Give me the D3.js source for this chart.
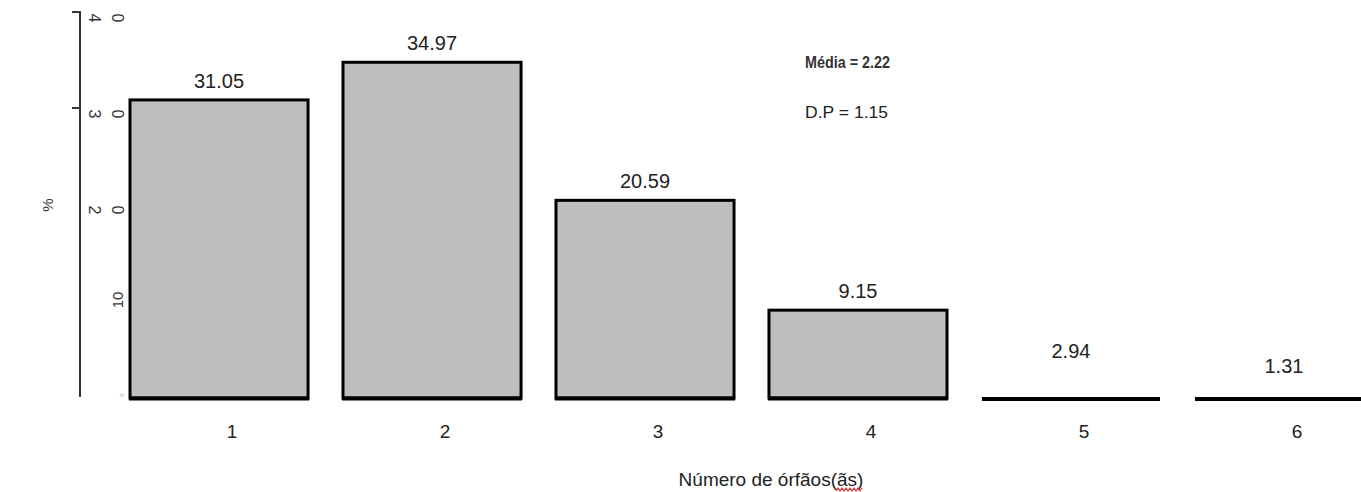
<!DOCTYPE html>
<html>
<head>
<meta charset="utf-8">
<script src="https://cdn.jsdelivr.net/npm/d3@7"></script>
<style>
  html, body { margin: 0; padding: 0; background: #fff; }
  svg { display: block; font-family: "Liberation Sans", Arial, sans-serif; }
</style>
</head>
<body>
<svg id="chart" width="1361" height="492"></svg>
<script>
// ---- data ----
const categories = ["1", "2", "3", "4", "5", "6"];
const percents = [31.05, 34.97, 20.59, 9.15, 2.94, 1.31];
const yTickValues = [0, 10, 20, 30, 40];
const xTitle = "Número de órfãos(ãs)";
const yTitle = "%";
const statLabels = ["Média = 2.22", "D.P = 1.15"];

// ---- layout ----
const svg = d3.select("#chart");
const baseY = 398;
const y = d3.scaleLinear().domain([0, 40]).range([baseY, 14]);
const x = d3.scaleBand().domain(categories).range([130, 1373]).paddingInner(0.164).paddingOuter(0);

// y axis line
svg.append("line")
  .attr("x1", 80).attr("x2", 80)
  .attr("y1", y(40) - 1).attr("y2", y(0) - 1)
  .attr("stroke", "#333").attr("stroke-width", 2);

// tick marks (only upper ones visible in the original)
svg.selectAll(".ytick").data(yTickValues.filter(v => v >= 30)).enter()
  .append("line")
  .attr("x1", 72).attr("x2", 81)
  .attr("y1", d => y(d) - 2).attr("y2", d => y(d) - 2)
  .attr("stroke", "#333").attr("stroke-width", 2);

// y tick labels (glyph-rotated, as rendered in the original)
yTickValues.forEach(v => {
  const s = String(v);
  const yy = y(v);
  if (v === 0) {
    svg.append("text").attr("x", 123).attr("y", yy - 2)
      .attr("font-size", 6).attr("fill", "#aaa").attr("text-anchor", "middle")
      .attr("transform", `rotate(-90,123,${yy - 3})`).text(s);
  } else if (v <= 10) {
    svg.append("text")
      .attr("transform", `translate(123,${yy - 2}) rotate(-90)`)
      .attr("font-size", 15).attr("fill", "#333").attr("text-anchor", "middle")
      .text(s);
  } else {
    s.split("").forEach((ch, i) => {
      const cx = 95 + i * 23;
      svg.append("text")
        .attr("transform", `translate(${cx},${yy + 4}) rotate(90)`)
        .attr("font-size", 16).attr("fill", "#333").attr("text-anchor", "middle")
        .attr("dy", "0.35em")
        .text(ch);
    });
  }
});

// y title
svg.append("text")
  .attr("transform", `translate(48,205) rotate(-90)`)
  .attr("text-anchor", "middle").attr("dy", "0.35em")
  .attr("font-size", 15).attr("fill", "#333")
  .text(yTitle);

// bars
const bars = svg.append("g");
percents.forEach((v, i) => {
  const c = categories[i];
  const x0 = x(c), w = x.bandwidth();
  if (v >= 5) {
    bars.append("rect")
      .attr("x", x0).attr("y", y(v))
      .attr("width", w).attr("height", baseY - y(v))
      .attr("fill", "#bebebe").attr("stroke", "#000").attr("stroke-width", 3);
    bars.append("line")
      .attr("x1", x0 - 1).attr("x2", x0 + w + 1)
      .attr("y1", baseY + 0.5).attr("y2", baseY + 0.5)
      .attr("stroke", "#000").attr("stroke-width", 4);
  } else {
    // flat bars, drawn only as a base line in the original
    bars.append("line")
      .attr("x1", x0).attr("x2", x0 + w)
      .attr("y1", baseY + 1).attr("y2", baseY + 1)
      .attr("stroke", "#000").attr("stroke-width", 4);
  }
  bars.append("text")
    .attr("x", x0 + w / 2).attr("y", y(v) - 12)
    .attr("text-anchor", "middle").attr("font-size", 20).attr("fill", "#222")
    .text(v.toFixed(2));
});

// x tick labels
svg.selectAll(".xlab").data(categories).enter()
  .append("text")
  .attr("x", d => x(d) + x.bandwidth() / 2 + 13)
  .attr("y", 438)
  .attr("text-anchor", "middle").attr("font-size", 19).attr("fill", "#222")
  .text(d => d);

// x title
svg.append("text")
  .attr("x", 771).attr("y", 486)
  .attr("text-anchor", "middle").attr("font-size", 19).attr("fill", "#222")
  .text(xTitle);

// red spell-check squiggle under the last word part
(function () {
  const pts = [];
  for (let px = 836, k = 0; px <= 862; px += 2, k++) pts.push([px, k % 2 ? 488 : 491]);
  svg.append("path").attr("d", d3.line()(pts))
    .attr("fill", "none").attr("stroke", "#e03030").attr("stroke-width", 1.2);
})();

// stats
svg.append("text")
  .attr("x", 805).attr("y", 68)
  .attr("font-size", 17).attr("fill", "#333").attr("font-weight", "bold")
  .attr("textLength", 85).attr("lengthAdjust", "spacingAndGlyphs")
  .text(statLabels[0]);
svg.append("text")
  .attr("x", 805).attr("y", 118)
  .attr("font-size", 17).attr("fill", "#222")
  .attr("textLength", 83).attr("lengthAdjust", "spacingAndGlyphs")
  .text(statLabels[1]);
</script>
</body>
</html>
